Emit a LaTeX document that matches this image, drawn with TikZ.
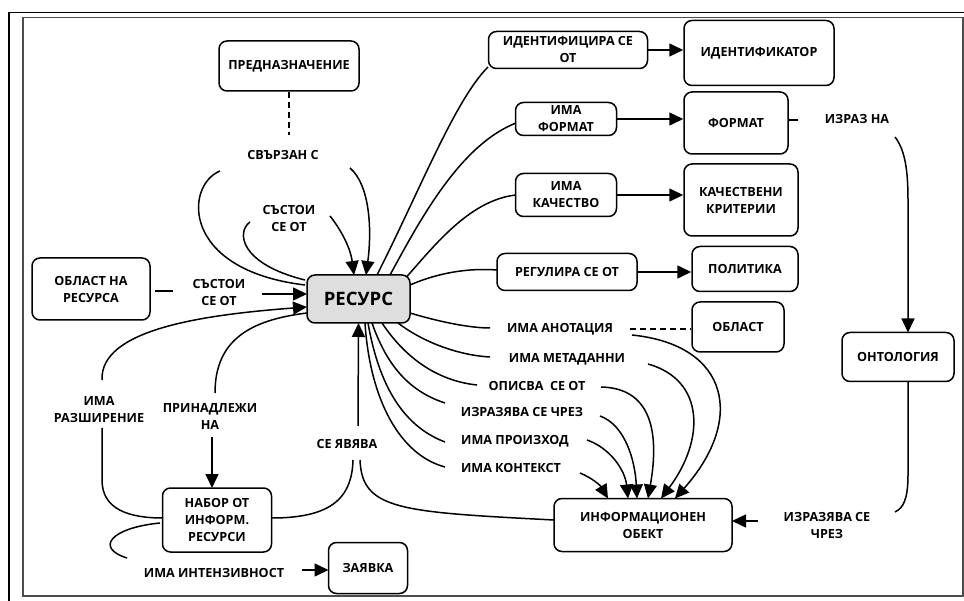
\documentclass[tikz,border=0pt]{standalone}
\usepackage{fontspec}
\setmainfont{Open Sans}
\usetikzlibrary{arrows.meta,calc}
\begin{document}
\begin{tikzpicture}[x=1pt,y=-1pt,
  every node/.style={font=\fontsize{12.6}{17}\selectfont\bfseries, align=center, inner sep=0pt},
  box/.style={draw, line width=1.5pt, rounded corners=8pt},
  con/.style={line width=1.5pt},
  arr/.style={line width=1.5pt, -{Triangle[length=14pt,width=13pt]}},
  dsh/.style={line width=1.3pt, dash pattern=on 6pt off 4pt}]
\useasboundingbox (0,0) rectangle (964,601);
% frame
\draw[line width=1.2pt] (9,601) -- (9,12.5) -- (964,12.5);
\draw[line width=1.4pt, black!70] (23,17.5) rectangle (963,596);

% boxes
\node[box, minimum width=140pt, minimum height=50pt] (predn) at (289,66) {ПРЕДНАЗНАЧЕНИЕ};
\node[box, minimum width=118pt, minimum height=62pt] (oblres) at (91,289) {ОБЛАСТ НА\\РЕСУРСА};
\node[box, fill=black!13, minimum width=103pt, minimum height=48pt, font=\fontsize{18.5}{20}\selectfont\bfseries] (resurs) at (358.5,299) {РЕСУРС};
\node[box, minimum width=159pt, minimum height=37pt] (identse) at (568,50) {ИДЕНТИФИЦИРА СЕ\\ОТ};
\node[box, minimum width=150pt, minimum height=65pt] (ident) at (759,53) {ИДЕНТИФИКАТОР};
\node[box, minimum width=101pt, minimum height=33pt] (imf) at (566,119) {ИМА\\ФОРМАТ};
\node[box, minimum width=104pt, minimum height=62pt] (format) at (736,123) {ФОРМАТ};
\node[box, minimum width=101pt, minimum height=43pt] (imk) at (566,195) {ИМА\\КАЧЕСТВО};
\node[box, minimum width=114pt, minimum height=72pt] (kach) at (741,200) {КАЧЕСТВЕНИ\\КРИТЕРИИ};
\node[box, minimum width=140pt, minimum height=37pt] (reg) at (567,272) {РЕГУЛИРА СЕ ОТ};
\node[box, minimum width=106pt, minimum height=45pt] (polit) at (745,269) {ПОЛИТИКА};
\node[box, minimum width=92pt, minimum height=50pt] (oblast) at (738,327) {ОБЛАСТ};
\node[box, minimum width=112pt, minimum height=49pt] (onto) at (898,357) {ОНТОЛОГИЯ};
\node[box, minimum width=178pt, minimum height=53pt] (infobj) at (643,525) {ИНФОРМАЦИОНЕН\\ОБЕКТ};
\node[box, minimum width=109pt, minimum height=64pt] (nabor) at (217,520) {НАБОР ОТ\\ИНФОРМ.\\РЕСУРСИ};
\node[box, minimum width=79pt, minimum height=51pt] (zayav) at (368,568) {ЗАЯВКА};

% labels
\node (svr) at (283,155) {СВЪРЗАН С};
\node (sst1) at (289,218) {СЪСТОИ\\СЕ ОТ};
\node (sst2) at (219,292) {СЪСТОИ\\СЕ ОТ};
\node (lrazsh) at (99,410) {ИМА\\РАЗШИРЕНИЕ};
\node (lprin) at (210,416) {ПРИНАДЛЕЖИ\\НА};
\node (lseyav) at (347,444) {СЕ ЯВЯВА};
\node (lint) at (214,573) {ИМА ИНТЕНЗИВНОСТ};
\node (lanot) at (560,329) {ИМА АНОТАЦИЯ};
\node (lmeta) at (567,359) {ИМА МЕТАДАННИ};
\node (lopis) at (537,386) {ОПИСВА\ \ СЕ ОТ};
\node (lizr) at (522,412) {ИЗРАЗЯВА СЕ ЧРЕЗ};
\node (lproiz) at (515,441) {ИМА ПРОИЗХОД};
\node (lkont) at (511,468) {ИМА КОНТЕКСТ};
\node (lizrazna) at (857,119) {ИЗРАЗ НА};
\node (lizr2) at (827,525) {ИЗРАЗЯВА СЕ\\ЧРЕЗ};

% upper left
\draw[dsh] (predn.south) -- ($(svr)+(6,-20)$);
\draw[con] ($(svr)+(-63,16)$) .. controls (185,185) and (180,270) .. ($(resurs)+(-53.5,-14)$);
\draw[arr] ($(svr)+(67,13)$) .. controls (370,185) and (372,230) .. ($(resurs)+(7.5,-24)$);
\draw[con] ($(sst1)+(-39,4)$) .. controls (236,232) and (240,264) .. ($(resurs)+(-53.5,-19)$);
\draw[arr] ($(sst1)+(41,-2)$) .. controls (338,226) and (350,245) .. ($(resurs)+(-4.5,-24)$);
\draw[con] ($(oblres)+(64,2)$) -- ($(sst2)+(-46,-1)$);
\draw[arr] ($(sst2)+(43,2)$) -- ($(resurs)+(-51.5,-5)$);

% lower left
\draw[arr] ($(lrazsh)+(3,-30)$) .. controls (100,330) and (200,315) .. ($(resurs)+(-51.5,8)$);
\draw[con] ($(lrazsh)+(3,18)$) -- (102,480) .. controls (102,510) and (130,518) .. ($(nabor)+(-54,-2)$);
\draw[con] ($(lprin)+(5,-23)$) .. controls (215,340) and (250,320) .. ($(resurs)+(-51.5,14)$);
\draw[arr] ($(lprin)+(2,21)$) -- ($(nabor)+(-5,-32)$);
\draw[arr] ($(lseyav)+(11,-18)$) -- ($(resurs)+(0,24)$);
\draw[con] ($(nabor)+(55,-2)$) .. controls (335,518) and (352,495) .. ($(lseyav)+(6,16)$);
\draw[con] ($(lseyav)+(13,16)$) .. controls (362,510) and (400,512) .. ($(infobj)+(-89,-5)$);
\draw[con] ($(nabor)+(-57,3)$) .. controls (110,528) and (95,548) .. ($(lint)+(-87,-15)$);
\draw[arr] ($(lint)+(88,-3)$) -- ($(zayav)+(-39.5,2)$);

% upper right fan
\draw[con] ($(resurs)+(18.5,-24)$) .. controls (420,190) and (455,100) .. ($(identse)+(-80,17)$);
\draw[con] ($(resurs)+(31.5,-24)$) .. controls (420,220) and (460,145) .. ($(imf)+(-50,4)$);
\draw[con] ($(resurs)+(48,-22)$) .. controls (435,245) and (470,200) .. ($(imk)+(-50,0)$);
\draw[con] ($(resurs)+(51.5,-14)$) .. controls (440,272) and (470,268) .. ($(reg)+(-70,-2)$);
\draw[arr] (identse.east) -- (identse.east -| ident.west);
\draw[arr] (imf.east) -- (imf.east -| format.west);
\draw[arr] (imk.east) -- (imk.east -| kach.west);
\draw[arr] (reg.east) -- (reg.east -| polit.west);

% lower right fan
\draw[con] ($(resurs)+(51.5,14)$) .. controls (440,322) and (470,328) .. ($(lanot)+(-70,-1)$);
\draw[con] ($(resurs)+(39.5,24)$) .. controls (420,340) and (455,355) .. ($(lmeta)+(-77,-2)$);
\draw[con] ($(resurs)+(23.5,24)$) .. controls (400,350) and (430,380) .. ($(lopis)+(-60,-1)$);
\draw[con] ($(resurs)+(13.5,24)$) .. controls (385,360) and (405,390) .. ($(lizr)+(-77,-9)$);
\draw[con] ($(resurs)+(9.5,24)$) .. controls (378,380) and (400,425) .. ($(lproiz)+(-70,1)$);
\draw[con] ($(resurs)+(6.5,24)$) .. controls (370,400) and (400,455) .. ($(lkont)+(-66,-1)$);

% into information object
\draw[arr] ($(lkont)+(69,5)$) .. controls (592,478) and (600,485) .. ($(infobj)+(-35,-26.5)$);
\draw[arr] ($(lproiz)+(72,-1)$) .. controls (610,448) and (625,470) .. ($(infobj)+(-15,-26.5)$);
\draw[arr] ($(lizr)+(78,4)$) .. controls (625,425) and (635,460) .. ($(infobj)+(-6,-26.5)$);
\draw[arr] ($(lopis)+(64,1)$) .. controls (650,388) and (660,430) .. ($(infobj)+(5,-26.5)$);
\draw[arr] ($(lmeta)+(81,5)$) .. controls (705,380) and (705,440) .. ($(infobj)+(18,-26.5)$);
\draw[arr] ($(lanot)+(72,6)$) .. controls (730,345) and (745,420) .. ($(infobj)+(32,-26.5)$);
\draw[dsh] ($(lanot)+(70,0)$) -- ($(oblast.west)+(0,2)$);

% right column
\draw[con] ($(format)+(52,-3)$) -- ($(lizrazna)+(-59,1)$);
\draw[arr] ($(lizrazna)+(38,18)$) .. controls (905,150) and (908,170) .. (908,200) -- ($(onto)+(10,-24.5)$);
\draw[con] ($(onto)+(10,24.5)$) -- (908,475) .. controls (908,500) and (903,508) .. ($(lizr2)+(68,-13)$);
\draw[arr] ($(lizr2)+(-69,-4)$) -- ($(infobj)+(89,-4)$);
\end{tikzpicture}
\end{document}
